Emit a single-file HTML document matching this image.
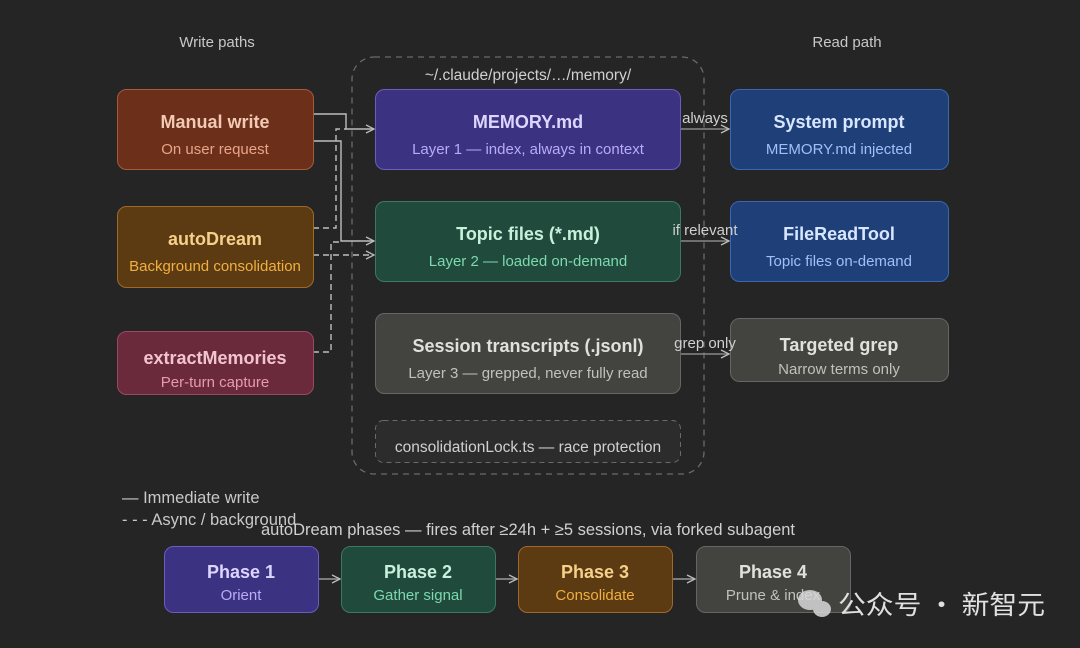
<!DOCTYPE html>
<html><head><meta charset="utf-8"><style>
html,body{margin:0;padding:0;background:#252525;}
svg{display:block;font-family:"Liberation Sans","Noto Sans CJK SC",sans-serif;}
</style></head><body>
<svg width="1080" height="648" viewBox="0 0 1080 648" xmlns="http://www.w3.org/2000/svg">
<defs>
<marker id="a" markerWidth="10" markerHeight="10" refX="9" refY="5" orient="auto" markerUnits="userSpaceOnUse"><path d="M1,1 L9,5 L1,9" fill="none" stroke="#bbb" stroke-width="1.3"/></marker>
</defs>
<rect width="1080" height="648" fill="#252525"/>
<text x="217" y="47" fill="#c8c8c8" font-size="15" text-anchor="middle">Write paths</text>
<text x="847" y="47" fill="#c8c8c8" font-size="15" text-anchor="middle">Read path</text>

<rect x="352" y="57" width="352" height="417" rx="22" fill="none" stroke="#6a6a6a" stroke-width="1.3" stroke-dasharray="6,5"/>
<text x="528" y="80" fill="#d0d0d0" font-size="15.5" text-anchor="middle">~/.claude/projects/…/memory/</text>

<g fill="none" stroke="#bdbdbd" stroke-width="1.4">
<path d="M313,114 H346 V129 H374" marker-end="url(#a)"/>
<path d="M313,141 H341 V241 H374" marker-end="url(#a)"/>
<path d="M313,228 H336 V129 H346" stroke-dasharray="6,4"/>
<path d="M313,255 H374" stroke-dasharray="6,4" marker-end="url(#a)"/>
<path d="M313,352 H331 V242 H341" stroke-dasharray="6,4"/>
<path d="M680,129 H729" marker-end="url(#a)" stroke="#888"/>
<path d="M680,241 H729" marker-end="url(#a)" stroke="#888"/>
<path d="M680,354 H729" marker-end="url(#a)" stroke="#888"/>
</g>

<rect x="117.5" y="89.5" width="196" height="80" rx="9" fill="#6b2f1a" stroke="#a65a3a"/>
<text x="215" y="128" fill="#f2c9b5" font-size="18" font-weight="bold" text-anchor="middle">Manual write</text>
<text x="215" y="154" fill="#e8a58a" font-size="15" text-anchor="middle">On user request</text>

<rect x="117.5" y="206.5" width="196" height="81" rx="9" fill="#5c3a12" stroke="#a0692a"/>
<text x="215" y="245" fill="#f5d08a" font-size="18" font-weight="bold" text-anchor="middle">autoDream</text>
<text x="215" y="271" fill="#f0b040" font-size="15" text-anchor="middle">Background consolidation</text>

<rect x="117.5" y="331.5" width="196" height="63" rx="9" fill="#6a2a3c" stroke="#9a4a60"/>
<text x="215" y="364" fill="#f2c4d0" font-size="18" font-weight="bold" text-anchor="middle">extractMemories</text>
<text x="215" y="387" fill="#e89ab0" font-size="15" text-anchor="middle">Per-turn capture</text>

<rect x="375.5" y="89.5" width="305" height="80" rx="9" fill="#3c3282" stroke="#6a5cc0"/>
<text x="528" y="128" fill="#dcd6ff" font-size="18" font-weight="bold" text-anchor="middle">MEMORY.md</text>
<text x="528" y="154" fill="#b8acf5" font-size="15" text-anchor="middle">Layer 1 — index, always in context</text>

<rect x="375.5" y="201.5" width="305" height="80" rx="9" fill="#1f4a3c" stroke="#3a7a60"/>
<text x="528" y="240" fill="#c8f0dc" font-size="18" font-weight="bold" text-anchor="middle">Topic files (*.md)</text>
<text x="528" y="266" fill="#7ed8b0" font-size="15" text-anchor="middle">Layer 2 — loaded on-demand</text>

<rect x="375.5" y="313.5" width="305" height="80" rx="9" fill="#434340" stroke="#666"/>
<text x="528" y="352" fill="#e0e0dc" font-size="18" font-weight="bold" text-anchor="middle">Session transcripts (.jsonl)</text>
<text x="528" y="378" fill="#c0c0bc" font-size="15" text-anchor="middle">Layer 3 — grepped, never fully read</text>

<rect x="375.5" y="420.5" width="305" height="42" rx="8" fill="#2c2c2c" stroke="#6a6a6a" stroke-dasharray="5,4"/>
<text x="528" y="452" fill="#d0d0d0" font-size="15.5" text-anchor="middle">consolidationLock.ts — race protection</text>

<rect x="730.5" y="89.5" width="218" height="80" rx="9" fill="#1e3f78" stroke="#3d66b0"/>
<text x="839" y="128" fill="#d8e6ff" font-size="18" font-weight="bold" text-anchor="middle">System prompt</text>
<text x="839" y="154" fill="#9ec0f5" font-size="15" text-anchor="middle">MEMORY.md injected</text>

<rect x="730.5" y="201.5" width="218" height="80" rx="9" fill="#1e3f78" stroke="#3d66b0"/>
<text x="839" y="240" fill="#d8e6ff" font-size="18" font-weight="bold" text-anchor="middle">FileReadTool</text>
<text x="839" y="266" fill="#9ec0f5" font-size="15" text-anchor="middle">Topic files on-demand</text>

<rect x="730.5" y="318.5" width="218" height="63" rx="9" fill="#434340" stroke="#666"/>
<text x="839" y="351" fill="#e0e0dc" font-size="18" font-weight="bold" text-anchor="middle">Targeted grep</text>
<text x="839" y="374" fill="#c0c0bc" font-size="15" text-anchor="middle">Narrow terms only</text>

<text x="705" y="123" fill="#d0d0d0" font-size="15" text-anchor="middle">always</text>
<text x="705" y="235" fill="#d0d0d0" font-size="15" text-anchor="middle">if relevant</text>
<text x="705" y="348" fill="#d0d0d0" font-size="15" text-anchor="middle">grep only</text>

<text x="122" y="503" fill="#c8c8c8" font-size="16.5">— Immediate write</text>
<text x="122" y="525" fill="#c8c8c8" font-size="16.5">- - - Async / background</text>
<text x="528" y="535" fill="#d0d0d0" font-size="16.5" text-anchor="middle">autoDream phases — fires after ≥24h + ≥5 sessions, via forked subagent</text>

<g fill="none" stroke="#999" stroke-width="1.4">
<path d="M318,579 H340" marker-end="url(#a)"/>
<path d="M495,579 H517" marker-end="url(#a)"/>
<path d="M672,579 H695" marker-end="url(#a)"/>
</g>
<rect x="164.5" y="546.5" width="154" height="66" rx="9" fill="#3c3282" stroke="#6a5cc0"/>
<text x="241" y="578" fill="#dcd6ff" font-size="18" font-weight="bold" text-anchor="middle">Phase 1</text>
<text x="241" y="600" fill="#b8acf5" font-size="15" text-anchor="middle">Orient</text>
<rect x="341.5" y="546.5" width="154" height="66" rx="9" fill="#1f4a3c" stroke="#3a7a60"/>
<text x="418" y="578" fill="#c8f0dc" font-size="18" font-weight="bold" text-anchor="middle">Phase 2</text>
<text x="418" y="600" fill="#7ed8b0" font-size="15" text-anchor="middle">Gather signal</text>
<rect x="518.5" y="546.5" width="154" height="66" rx="9" fill="#5c3a12" stroke="#a0692a"/>
<text x="595" y="578" fill="#f5d08a" font-size="18" font-weight="bold" text-anchor="middle">Phase 3</text>
<text x="595" y="600" fill="#f0b040" font-size="15" text-anchor="middle">Consolidate</text>
<rect x="696.5" y="546.5" width="154" height="66" rx="9" fill="#434340" stroke="#666"/>
<text x="773" y="578" fill="#e0e0dc" font-size="18" font-weight="bold" text-anchor="middle">Phase 4</text>
<text x="773" y="600" fill="#c0c0bc" font-size="15" text-anchor="middle">Prune &amp; index</text>

<g fill="#d8d8d8" opacity="0.85">
<ellipse cx="810" cy="600" rx="12" ry="10"/>
<ellipse cx="822" cy="609" rx="9" ry="8"/>
</g>
<text x="838" y="614" fill="#e0e0e0" font-size="26" font-family="'Noto Sans CJK SC',sans-serif" textLength="207" lengthAdjust="spacingAndGlyphs">公众号 · 新智元</text>
</svg>
</body></html>
